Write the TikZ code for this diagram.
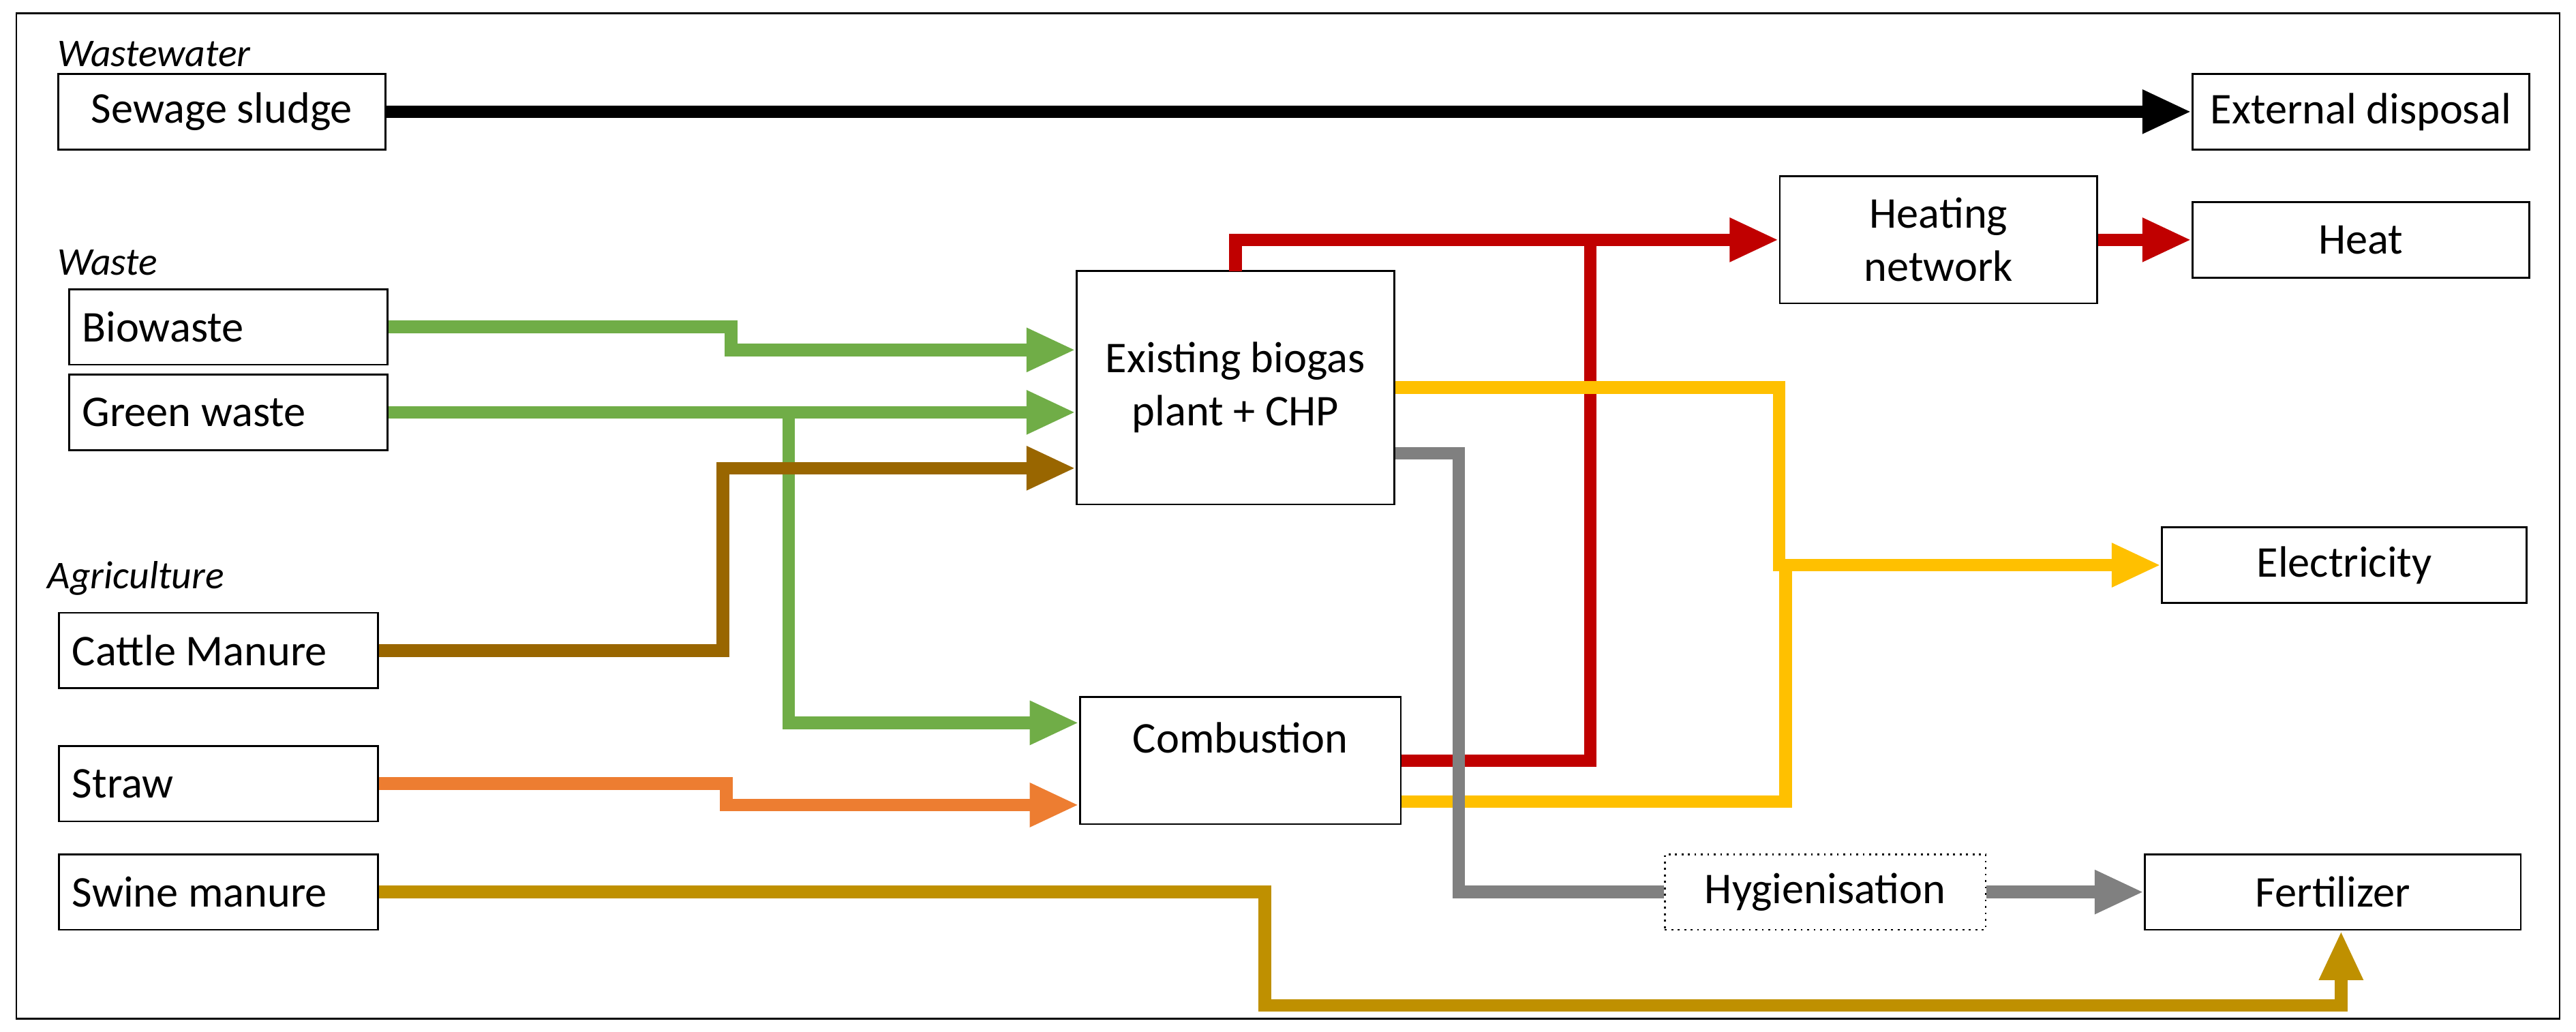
\documentclass[tikz,border=0pt]{standalone}
\usepackage{fontspec}
\setmainfont{Carlito}
\usetikzlibrary{arrows.meta}
\definecolor{cred}{RGB}{192,0,0}
\definecolor{cgreen}{RGB}{112,173,71}
\definecolor{cbrown}{RGB}{153,102,0}
\definecolor{corange}{RGB}{237,125,49}
\definecolor{cyellow}{RGB}{255,192,0}
\definecolor{cgrey}{RGB}{128,128,128}
\definecolor{cgold}{RGB}{191,144,0}
\begin{document}
\begin{tikzpicture}[x=0.025cm,y=-0.025cm,font=\fontsize{19}{23}\selectfont]
		\tikzset{box/.style = {draw,thick,fill=white,minimum height=1.15cm,inner sep=0pt}}
		\tikzset{lbox/.style = {draw,thick,fill=white,minimum height=1.15cm,inner ysep=0pt,inner xsep=0.2cm,text width=4.45cm,align=flush left}}
		\tikzset{flow/.style = {line width=5.5pt,-{Triangle[length=0.75cm,width=0.62cm]}}}
		\tikzset{cat/.style = {font=\fontsize{17}{20}\selectfont\itshape,anchor=west}}
		\useasboundingbox (0,0) rectangle (1568,628);
		\draw[thick] (10,8) rectangle (1558,620);
		\node[cat] (ww) at (30,33) {Wastewater};
		\node[cat] (wa) at (30,160) {Waste};
		\node[cat] (ag) at (24,352) {Agriculture};
		\node[box,minimum width=4.98cm] (sew) at (135,68) {Sewage sludge};
		\node[box,minimum width=5.12cm] (ext) at (1437,68) {External disposal};
		\node[box,minimum width=4.83cm,minimum height=1.93cm,align=center] (hnet) at (1180,146) {Heating\\network};
		\node[box,minimum width=5.12cm] (heat) at (1437,146) {Heat};
		\node[lbox] (bio) at (139,199) {Biowaste};
		\node[lbox] (green) at (139,251) {Green waste};
		\node[box,minimum width=4.83cm,minimum height=3.55cm,align=center] (plant) at (752,236) {Existing biogas\\plant + CHP};
		\node[box,minimum width=5.55cm] (elec) at (1427,344) {Electricity};
		\node[lbox] (cattle) at (133,396) {Cattle Manure};
		\node[box,minimum width=4.88cm,minimum height=1.93cm] (comb) at (755,463) {\raisebox{0.7cm}{Combustion}};
		\node[lbox] (straw) at (133,477) {Straw};
		\node[lbox] (swine) at (133,543) {Swine manure};
		\node[box,dotted,minimum width=4.88cm] (hyg) at (1111,543) {Hygienisation};
		\node[box,minimum width=5.72cm] (fert) at (1420,543) {Fertilizer};
		% flows
		\draw[flow,black] (sew.east) -- (ext.west);
		\draw[flow,cred] (752,165) -- (752,146) -- (hnet.west);
		\draw[flow,cred] (hnet.east) -- (heat.west);
		\draw[flow,cred,-] (comb.east |- 0,463) -- (968,463) -- (968,146);
		\draw[flow,cgreen] (bio.east) -- (445,199) -- (445,213) -- (plant.west |- 0,213);
		\draw[flow,cgreen] (green.east) -- (plant.west |- 0,251);
		\draw[flow,cgreen] (480,251) -- (480,440) -- (comb.west |- 0,440);
		\draw[flow,cbrown] (cattle.east) -- (440,396) -- (440,285) -- (plant.west |- 0,285);
		\draw[flow,corange] (straw.east) -- (442,477) -- (442,490) -- (comb.west |- 0,490);
		\draw[flow,cyellow] (plant.east |- 0,236) -- (1083,236) -- (1083,344) -- (elec.west);
		\draw[flow,cyellow,-] (comb.east |- 0,488) -- (1087,488) -- (1087,344);
		\draw[flow,cgrey,-] (plant.east |- 0,276) -- (888,276) -- (888,543) -- (hyg.west);
		\draw[flow,cgrey] (hyg.east) -- (fert.west);
		\draw[flow,cgold] (swine.east) -- (770,543) -- (770,612) -- (1425,612) -- (fert.south -| 1425,0);
\end{tikzpicture}
\end{document}
